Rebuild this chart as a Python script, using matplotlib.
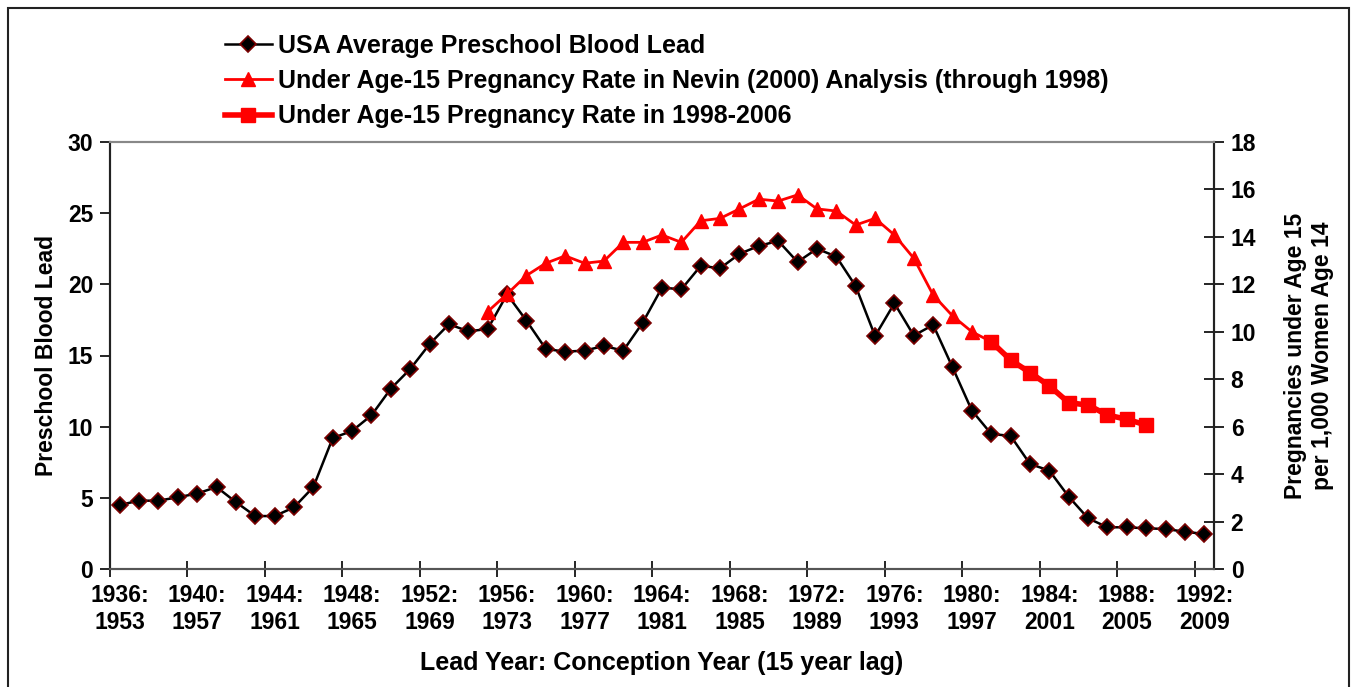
import matplotlib
matplotlib.use('Agg')
import matplotlib.pyplot as plt
from matplotlib.patches import Rectangle

plt.rcParams['font.family'] = ['Liberation Sans', 'DejaVu Sans']
plt.rcParams['font.weight'] = 'bold'

# lead years (conception year = lead year + 17)
lead_years = list(range(1936, 1993))
blood_lead = [4.5, 4.8, 4.8, 5.04, 5.3, 5.76, 4.7, 3.72, 3.72, 4.33,
              5.76, 9.2, 9.7, 10.8, 12.67, 14.05, 15.8, 17.2, 16.7, 16.86,
              19.3, 17.45, 15.46, 15.27, 15.34, 15.67, 15.34, 17.3, 19.77, 19.65,
              21.3, 21.13, 22.14, 22.7, 23.05, 21.57, 22.5, 21.95, 19.87, 16.37,
              18.67, 16.4, 17.15, 14.17, 11.13, 9.49, 9.35, 7.38, 6.91, 5.08,
              3.56, 2.93, 2.93, 2.86, 2.81, 2.62, 2.46]

nevin_years = list(range(1955, 1982))
nevin_rate = [10.85, 11.59, 12.37, 12.89, 13.2, 12.89, 12.98, 13.77, 13.77, 14.08,
              13.77, 14.68, 14.78, 15.18, 15.59, 15.51, 15.77, 15.18, 15.09, 14.5,
              14.78, 14.08, 13.1, 11.55, 10.67, 10.0, 9.58]

recent_years = list(range(1981, 1990))
recent_rate = [9.58, 8.81, 8.28, 7.72, 7.01, 6.91, 6.49, 6.31, 6.07]

tick_years = list(range(1936, 1993, 4))
tick_labels = [f'{y}:\n{y + 17}' for y in tick_years]

W, H = 1351, 687
fig = plt.figure(figsize=(W / 100, H / 100), dpi=100)
fig.patches.append(Rectangle((8 / W, -0.05), (1349 - 8) / W, 1.05 - 8 / H,
                             transform=fig.transFigure, fill=False,
                             edgecolor='#222222', linewidth=1.5))

ax = fig.add_axes([110 / W, 1 - 569 / H, (1214 - 110) / W, (569 - 142) / H])
ax2 = ax.twinx()

l1, = ax.plot(lead_years, blood_lead, color='black', linewidth=1.8,
              marker='D', markersize=8, markerfacecolor='black',
              markeredgecolor='#7a0000', markeredgewidth=1.2,
              label='USA Average Preschool Blood Lead')
l2, = ax2.plot(nevin_years, nevin_rate, color='#ff0000', linewidth=2.0,
               marker='^', markersize=10, markeredgecolor='#ff0000',
               label='Under Age-15 Pregnancy Rate in Nevin (2000) Analysis (through 1998)')
l3, = ax2.plot(recent_years, recent_rate, color='#ff0000', linewidth=4.0,
               marker='s', markersize=10, markeredgecolor='#ff0000',
               label='Under Age-15 Pregnancy Rate in 1998-2006')

ax.set_xlim(1935.5, 1992.5)
ax.set_ylim(0, 30)
ax.set_yticks(range(0, 31, 5))
ax2.set_ylim(0, 18)
ax2.set_yticks(range(0, 19, 2))

ax.set_xticks(tick_years)
ax.set_xticklabels(tick_labels, linespacing=1.2)
ax.set_xticks([y - 0.5 for y in tick_years], minor=True)
ax.tick_params(axis='x', which='major', length=0, pad=11, labelsize=16.5)
ax.tick_params(axis='x', which='minor', length=12, direction='inout', width=1.2)
ax.tick_params(axis='y', length=7, direction='out', width=1.2, labelsize=16.5, pad=5)
ax2.tick_params(axis='y', length=14, direction='inout', width=1.2, labelsize=16.5, pad=5)

for a in (ax, ax2):
    a.spines['top'].set_color('#888888')
    a.spines['bottom'].set_color('#555555')
    a.spines['left'].set_color('#222222')
    a.spines['right'].set_color('#222222')
    for s in a.spines.values():
        s.set_linewidth(1.5)

ax.set_xlabel('Lead Year: Conception Year (15 year lag)', fontsize=18,
              fontweight='bold', labelpad=12)
ax.set_ylabel('Preschool Blood Lead', fontsize=16.5, fontweight='bold', labelpad=7)
ax2.set_ylabel('Pregnancies under Age 15\nper 1,000 Women Age 14', fontsize=16.5,
               fontweight='bold', labelpad=20, linespacing=1.25)

fig.legend(handles=[l1, l2, l3], loc='upper left',
           bbox_to_anchor=(212 / W, 1 - 21 / H), frameon=False, borderpad=0,
           handlelength=1.9, handletextpad=0.25, labelspacing=0.46,
           prop={'weight': 'bold', 'size': 18})

fig.savefig('out.png', dpi=100)
